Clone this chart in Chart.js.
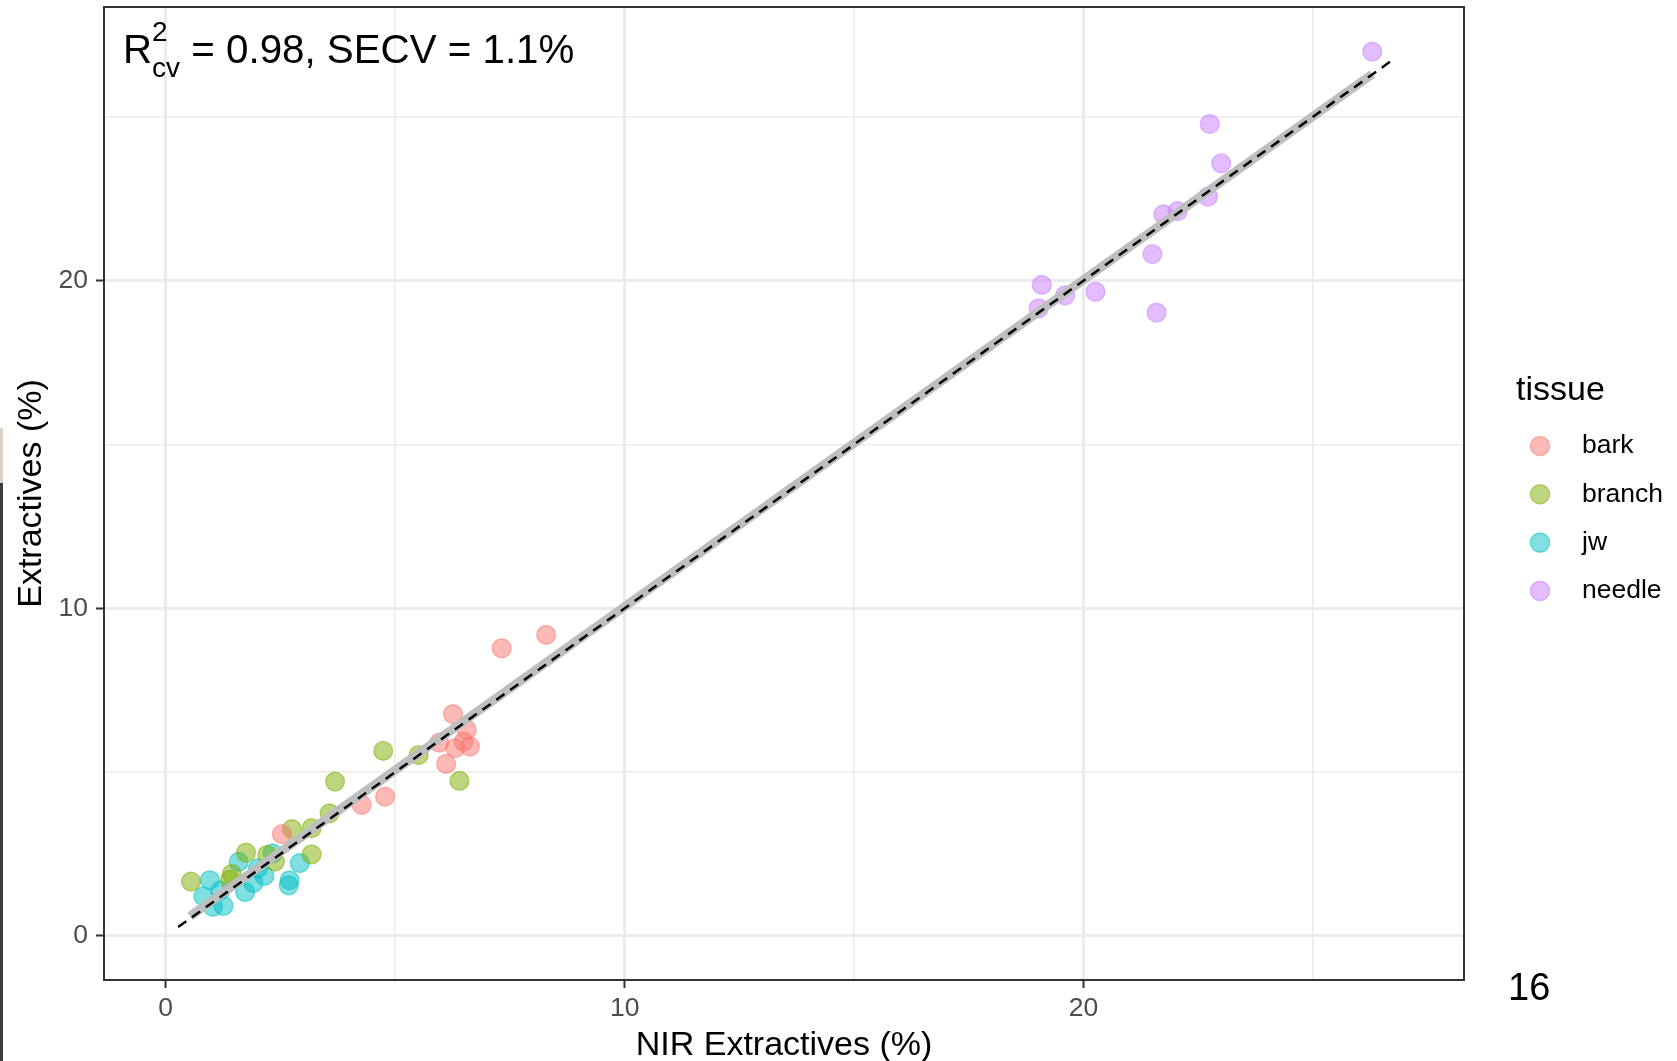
<!DOCTYPE html>
<html>
<head>
<meta charset="utf-8">
<script src="https://cdn.jsdelivr.net/npm/chart.js@4"></script>
<style>
html,body{margin:0;padding:0;background:#ffffff;}
#wrap{width:1677px;height:1061px;position:relative;}
</style>
</head>
<body>
<div id="wrap"><canvas id="c"></canvas></div>
<script>
// ---------------- data ----------------
const tissues = ['bark', 'branch', 'jw', 'needle'];
const tissueColors = ['248,118,109', '124,174,0', '0,191,196', '199,124,255'];

const barkX   = [2.53, 4.27, 4.78, 5.96, 6.26, 6.31, 6.49, 6.56, 6.63, 6.11, 7.32, 8.29];
const barkY   = [3.11, 4.00, 4.25, 5.90, 6.77, 5.73, 5.93, 6.29, 5.78, 5.25, 8.78, 9.19];

const branchX = [0.55, 1.40, 1.44, 1.75, 2.21, 2.38, 3.18, 2.75, 3.18, 3.57, 3.69, 4.74, 5.51, 6.40];
const branchY = [1.66, 1.71, 1.89, 2.54, 2.47, 2.27, 2.49, 3.26, 3.29, 3.74, 4.71, 5.65, 5.52, 4.73];

const jwX     = [0.96, 0.82, 1.03, 1.26, 1.19, 1.59, 1.73, 2.01, 1.91, 2.15, 2.33, 2.92, 2.68, 2.70];
const jwY     = [1.70, 1.21, 0.89, 0.92, 1.38, 2.26, 1.34, 2.06, 1.61, 1.83, 2.52, 2.22, 1.54, 1.70];

const needleX = [26.29, 22.75, 23.00, 22.71, 22.05, 21.74, 21.50, 21.59, 20.26, 19.60, 19.09, 19.02];
const needleY = [26.99, 24.78, 23.58, 22.56, 22.12, 22.02, 20.81, 19.02, 19.66, 19.55, 19.87, 19.15];

const fitX = [0.53, 26.29];
const fitY = [0.60, 26.30];
const oneToOneX = [0.27, 26.78];
const oneToOneY = [0.27, 26.78];

const tickValues = [0, 5, 10, 15, 20, 25];
const tickLabels = ['0', '', '10', '', '20', ''];
const xRange = [-1.345, 28.29];
const yRange = [-1.345, 28.35];

const xTitle = 'NIR Extractives (%)';
const yTitle = 'Extractives (%)';
const legendTitle = 'tissue';
const statText = ' = 0.98, SECV = 1.1%';
const pageNumber = '16';

// ---------------- helpers ----------------
const FONT = '"Liberation Sans", Arial, Helvetica, sans-serif';
function pts(xs, ys) { return xs.map((x, i) => ({x: x, y: ys[i]})); }
const groupX = [barkX, branchX, jwX, needleX];
const groupY = [barkY, branchY, jwY, needleY];

const pointSets = tissues.map((t, i) => ({
  label: t,
  data: pts(groupX[i], groupY[i]),
  backgroundColor: 'rgba(' + tissueColors[i] + ',0.5)',
  borderColor: 'rgba(' + tissueColors[i] + ',0.5)',
  pointRadius: 9.4,
  pointBorderWidth: 1.4,
  pointHoverRadius: 9.4,
  showLine: false,
  order: 10 + i
}));

const lineSets = [
  {
    label: '1:1',
    data: pts(oneToOneX, oneToOneY),
    showLine: true,
    borderColor: '#000000',
    borderWidth: 2.5,
    borderDash: [10, 7],
    borderCapStyle: 'butt',
    pointRadius: 0,
    fill: false,
    order: 0
  },
  {
    label: 'fit',
    data: pts(fitX, fitY),
    showLine: true,
    borderColor: '#BEBEBE',
    borderWidth: 9,
    borderCapStyle: 'butt',
    pointRadius: 0,
    fill: false,
    order: 1
  }
];

function tickIdx(v) { return tickValues.indexOf(v); }
function isMajor(v) { const k = tickIdx(v); return k >= 0 && tickLabels[k] !== ''; }

function axisCfg(range, titleText, isY) {
  return {
    type: 'linear',
    min: range[0],
    max: range[1],
    afterBuildTicks: (s) => { s.ticks = tickValues.map(v => ({value: v})); },
    afterFit: (s) => {
      if (isY) { s.width = 104; s.paddingTop = 0; s.paddingBottom = 0; }
      else { s.height = 81; s.paddingLeft = 0; s.paddingRight = 0; }
    },
    ticks: {
      autoSkip: false,
      maxRotation: 0,
      minRotation: 0,
      padding: isY ? 8 : 5,
      color: '#4D4D4D',
      font: {family: FONT, size: 26.5},
      callback: (v) => { const k = tickIdx(v); return k >= 0 ? tickLabels[k] : ''; }
    },
    grid: {
      color: '#EBEBEB',
      lineWidth: (c) => isMajor(c.tick.value) ? 3 : 1.6,
      drawTicks: true,
      tickLength: 8,
      tickWidth: 2,
      tickColor: (c) => isMajor(c.tick.value) ? '#333333' : 'rgba(0,0,0,0)'
    },
    border: {display: false},
    title: isY ? {
      display: true,
      text: titleText,
      color: '#000000',
      font: {family: FONT, size: 34, lineHeight: 1},
      padding: {top: 15, bottom: 0}
    } : {
      display: true,
      text: titleText,
      color: '#000000',
      font: {family: FONT, size: 34, lineHeight: 0.9},
      padding: {top: 0, bottom: 0}
    }
  };
}

const decor = {
  id: 'decor',
  afterDraw(chart) {
    const ctx = chart.ctx;
    const a = chart.chartArea;
    ctx.save();
    // panel border
    ctx.strokeStyle = '#333333';
    ctx.lineWidth = 2;
    ctx.strokeRect(a.left, a.top, a.right - a.left, a.bottom - a.top);

    // stat annotation
    ctx.fillStyle = '#000000';
    ctx.textAlign = 'left';
    ctx.textBaseline = 'alphabetic';
    ctx.font = '40.3px ' + FONT;
    const x0 = 123;
    ctx.fillText('R', x0, 63);
    const rw = ctx.measureText('R').width;
    ctx.font = '28px ' + FONT;
    ctx.fillText('2', x0 + rw, 41);
    ctx.fillText('cv', x0 + rw, 77);
    const cw = ctx.measureText('cv').width;
    ctx.font = '40.3px ' + FONT;
    ctx.fillText(statText, x0 + rw + cw, 63);

    // legend
    ctx.font = '34px ' + FONT;
    ctx.fillText(legendTitle, 1516, 400);
    const keyY0 = 446, keyStep = 48.3;
    tissues.forEach((t, i) => {
      const y = keyY0 + i * keyStep;
      ctx.beginPath();
      ctx.arc(1540, y, 9.6, 0, Math.PI * 2);
      ctx.fillStyle = 'rgba(' + tissueColors[i] + ',0.5)';
      ctx.fill();
      ctx.lineWidth = 1.4;
      ctx.strokeStyle = 'rgba(' + tissueColors[i] + ',0.5)';
      ctx.stroke();
      ctx.fillStyle = '#000000';
      ctx.font = '26.5px ' + FONT;
      ctx.textBaseline = 'middle';
      ctx.fillText(t, 1582, y);
      ctx.textBaseline = 'alphabetic';
    });

    // page number
    ctx.font = '38px ' + FONT;
    ctx.fillStyle = '#000000';
    ctx.fillText(pageNumber, 1508, 1000);

    // scan edge at far left
    ctx.fillStyle = '#d9d1ca';
    ctx.fillRect(0, 428, 3, 55);
    ctx.fillStyle = '#3c3c3c';
    ctx.fillRect(0, 483, 3, 578);
    ctx.restore();
  }
};

new Chart(document.getElementById('c'), {
  type: 'scatter',
  data: {datasets: lineSets.concat(pointSets)},
  options: {
    responsive: true,
    maintainAspectRatio: false,
    animation: false,
    devicePixelRatio: 1,
    layout: {autoPadding: false, padding: {left: 0, top: 7, right: 213, bottom: 0}},
    plugins: {
      legend: {display: false},
      tooltip: {enabled: false},
      title: {display: false}
    },
    scales: {
      x: axisCfg(xRange, xTitle, false),
      y: axisCfg(yRange, yTitle, true)
    }
  },
  plugins: [decor]
});
</script>
</body>
</html>
